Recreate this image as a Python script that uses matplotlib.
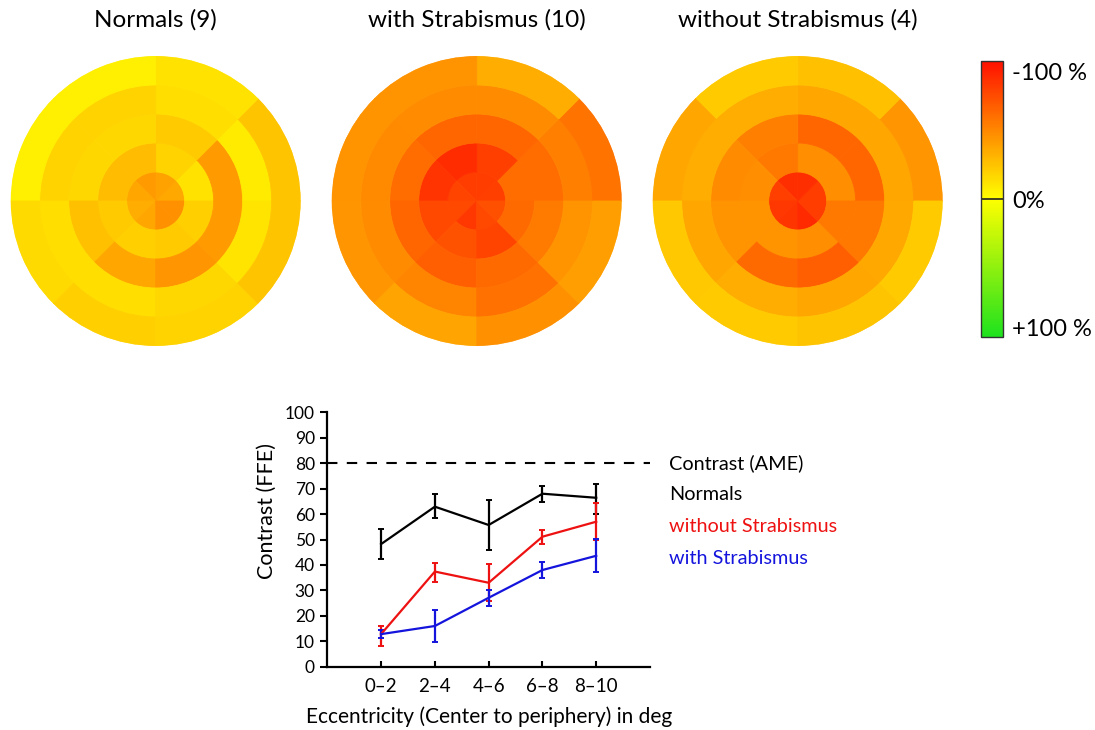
import numpy as np
import matplotlib
matplotlib.use("Agg")
import matplotlib.pyplot as plt
from matplotlib.colors import LinearSegmentedColormap, Normalize
from matplotlib.cm import ScalarMappable

plt.rcParams['font.family'] = ['Lato', 'DejaVu Sans']

# ---- polar maps: rows = rings (center -> periphery), cols = 45 deg sectors ccw from east
map_titles = ["Normals (9)", "with Strabismus (10)", "without Strabismus (4)"]

normals_map = [
    [-36, -39, -42, -37, -34, -37, -46, -46],
    [-12, -18, -28, -28, -22, -20, -22, -20],
    [-42, -22, -17, -17, -26, -37, -44, -42],
    [-8, -14, -18, -18, -14, -14, -17, -11],
    [-25, -12, -7, -7, -15, -20, -18, -25],
]
with_strab_map = [
    [-80, -81, -81, -78, -76, -83, -76, -73],
    [-61, -80, -88, -85, -76, -72, -78, -62],
    [-61, -64, -64, -61, -64, -67, -62, -55],
    [-53, -48, -48, -49, -48, -51, -59, -45],
    [-58, -34, -45, -45, -44, -38, -46, -40],
]
without_strab_map = [
    [-81, -87, -87, -80, -83, -84, -89, -81],
    [-47, -47, -56, -47, -45, -45, -47, -56],
    [-64, -64, -53, -48, -45, -62, -67, -56],
    [-37, -37, -34, -34, -37, -34, -37, -36],
    [-44, -26, -22, -37, -23, -22, -25, -22],
]

# ---- line chart
ecc_labels = ["0\u20132", "2\u20134", "4\u20136", "6\u20138", "8\u201310"]
ame_level = 80

normals_mean = [48.2, 62.9, 55.7, 68.0, 66.4]
normals_low = [42.2, 58.3, 45.7, 64.6, 60.0]
normals_high = [54.1, 67.8, 65.5, 70.9, 72.0]

without_mean = [12.8, 37.4, 33.0, 51.1, 57.0]
without_low = [8.1, 33.4, 26.0, 48.2, 49.8]
without_high = [16.0, 40.9, 40.4, 53.7, 64.5]

with_mean = [12.8, 16.0, 27.1, 38.0, 43.6]
with_low = [11.1, 9.8, 23.9, 34.7, 37.4]
with_high = [14.4, 22.3, 30.1, 41.3, 50.1]

cmap = LinearSegmentedColormap.from_list(
    "contrast", [(0.0, "#FF1000"), (0.5, "#FFFF00"), (1.0, "#1EE21E")])
norm = Normalize(vmin=-100, vmax=100)

fig = plt.figure(figsize=(10.95, 7.30), dpi=100)
W, H = 1095.0, 730.0

centers = [155.7, 476.7, 797.7]
radius = 145.0
maps = [normals_map, with_strab_map, without_strab_map]
sector_w = 2 * np.pi / 8
sector_mid = np.arange(8) * sector_w + sector_w / 2

for cx, data, title in zip(centers, maps, map_titles):
    ax = fig.add_axes([(cx - radius) / W, (H - 201 - radius) / H,
                       2 * radius / W, 2 * radius / H], projection="polar")
    for ring, row in enumerate(data):
        cols = cmap(norm(np.array(row)))
        ax.bar(sector_mid, 1, width=sector_w, bottom=ring, color=cols,
               edgecolor=cols, linewidth=0.6)
    ax.set_ylim(0, 5)
    ax.set_axis_off()
    fig.text(cx / W, 1 - 20 / H, title, ha="center", va="center", fontsize=17.5)

# colorbar
cax = fig.add_axes([981 / W, (H - 337) / H, 22 / W, 276 / H])
cb = fig.colorbar(ScalarMappable(norm=norm, cmap=cmap), cax=cax)
cax.invert_yaxis()
cb.set_ticks([])
cb.outline.set_edgecolor("#333333")
cb.outline.set_linewidth(1.0)
cax.axhline(0, color="#222222", lw=1.2)
fig.text(1012 / W, 1 - 73 / H, "-100 %", ha="left", va="center", fontsize=17)
fig.text(1012 / W, 1 - 201 / H, "0%", ha="left", va="center", fontsize=17)
fig.text(1012 / W, 1 - 329 / H, "+100 %", ha="left", va="center", fontsize=17)

# line chart
ax = fig.add_axes([327.3 / W, (H - 666.7) / H, 322.7 / W, 254.4 / H])
x = np.arange(1, 6)
series = [
    (normals_mean, normals_low, normals_high, "black"),
    (without_mean, without_low, without_high, "#EE1111"),
    (with_mean, with_low, with_high, "#1414DD"),
]
for mean, low, high, col in series:
    mean = np.array(mean)
    yerr = [mean - np.array(low), np.array(high) - mean]
    ax.errorbar(x, mean, yerr=yerr, color=col, lw=1.6, elinewidth=1.6,
                capsize=2, capthick=1.4)

ax.plot([0, 6], [ame_level, ame_level], color="black", lw=1.5,
        dashes=(5, 4.5), clip_on=False)

legend_items = [("Contrast (AME)", "black", 80.1), ("Normals", "black", 67.5),
                ("without Strabismus", "#EE1111", 55.3),
                ("with Strabismus", "#1414DD", 42.7)]
for txt, col, yy in legend_items:
    ax.text(6.35, yy, txt, color=col, fontsize=14.3, va="center", ha="left",
            clip_on=False)

ax.set_xlim(0, 6)
ax.set_ylim(0, 100)
ax.set_xticks(x)
ax.set_xticklabels(ecc_labels, fontsize=13.5)
ax.set_yticks(np.arange(0, 101, 10))
ax.tick_params(axis="y", direction="out", length=5, width=1.5, labelsize=12.5, pad=4)
ax.tick_params(axis="x", direction="in", length=4, width=1.5, pad=8)
for s in ["top", "right"]:
    ax.spines[s].set_visible(False)
for s in ["left", "bottom"]:
    ax.spines[s].set_linewidth(1.6)
ax.set_xlabel("Eccentricity (Center to periphery) in deg", fontsize=15, labelpad=8)
ax.set_ylabel("Contrast (FFE)", fontsize=15.5)
ax.yaxis.set_label_coords(-0.155, 0.613)

fig.savefig("out.png", dpi=100)
